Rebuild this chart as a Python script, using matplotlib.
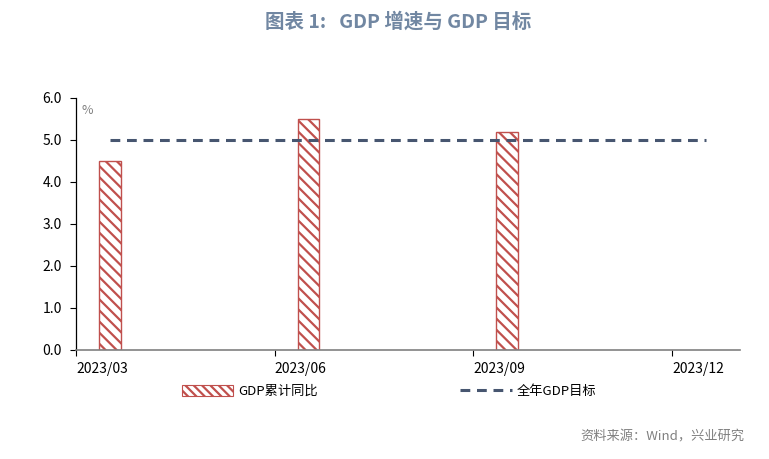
import numpy as np
import matplotlib.pyplot as plt
from matplotlib.lines import Line2D
from matplotlib.patches import Patch

plt.rcParams['font.family'] = ['Noto Sans CJK SC', 'DejaVu Sans']
plt.rcParams['hatch.linewidth'] = 1.6

# data
quarters = ['2023/03', '2023/06', '2023/09', '2023/12']
gdp_yoy = [4.5, 5.5, 5.2]
gdp_target = [5.0, 5.0, 5.0, 5.0]

bar_color = '#c0504d'
line_color = '#475670'

fig = plt.figure(figsize=(7.69, 4.59), dpi=100)
ax = fig.add_axes([0.0988, 0.2375, 0.8632, 0.549])

x_q = np.arange(len(quarters))
off = 0.17
ax.bar(x_q[:len(gdp_yoy)] + off, gdp_yoy, width=0.11, color='white',
       edgecolor=bar_color, hatch='\\\\\\', linewidth=1.0, zorder=2)
ax.plot(x_q + off, gdp_target, color=line_color, linestyle=(0, (3.2, 2.2)),
        linewidth=2.2, zorder=3)

ax.set_xlim(0, 3.34)
ax.set_ylim(0, 6)
ax.set_yticks(np.arange(0, 6.1, 1.0))
ax.set_yticklabels([f'{v:.1f}' for v in np.arange(0, 6.1, 1.0)], fontsize=10)
ax.set_xticks(x_q)
ax.set_xticklabels(quarters, fontsize=10, ha='left')

for s in ['top', 'right']:
    ax.spines[s].set_visible(False)
ax.spines['left'].set_color('black')
ax.spines['left'].set_linewidth(0.9)
ax.spines['bottom'].set_color('#808080')
ax.spines['bottom'].set_linewidth(1.2)
ax.tick_params(axis='y', direction='out', length=4, width=0.8, pad=6)
ax.tick_params(axis='x', direction='out', length=4, width=0.8, color='black', pad=5)

ax.text(0.03, 5.85, '%', fontsize=9, color='#808080', ha='left', va='top')

fig.text(0.518, 0.952, '图表 1:   GDP 增速与 GDP 目标', ha='center', va='center',
         fontsize=14, fontweight='bold', color='#7187a2')

handles = [Patch(facecolor='white', edgecolor=bar_color, hatch='\\\\\\\\', linewidth=0.8),
           Line2D([0], [0], color=line_color, linestyle=(0, (3.2, 2.2)), linewidth=2.2)]
fig.legend(handles, ['GDP累计同比', '全年GDP目标'], loc='center', ncol=2,
           bbox_to_anchor=(0.506, 0.148), frameon=False, fontsize=9.5,
           handlelength=3.9, handleheight=0.9, handletextpad=0.4, columnspacing=10.8)

fig.text(0.968, 0.048, '资料来源：Wind，兴业研究', ha='right', va='center',
         fontsize=9.5, color='#808080')

plt.savefig('out.png', dpi=100)
